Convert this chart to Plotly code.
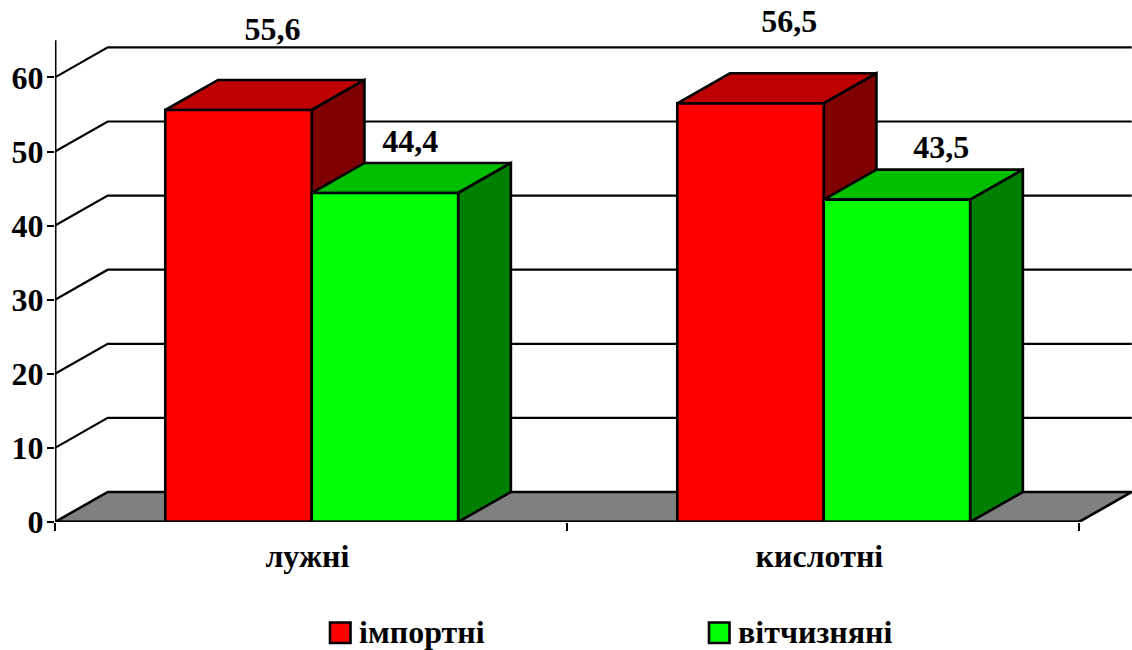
import plotly.graph_objects as go

# Chart data
categories = ["лужні", "кислотні"]
series_names = ["імпортні", "вітчизняні"]
imported = [55.6, 56.5]
domestic = [44.4, 43.5]
value_ticks = [0, 10, 20, 30, 40, 50, 60]
value_labels = ["55,6", "56,5"], ["44,4", "43,5"]

# Faux-3D geometry in axis units
BAR_WIDTH = 0.2860
GROUP_CENTER = 0.5014
DEPTH_X = 0.1030
DEPTH_Y = 4.05
X_MAX = 2
Y_AXIS_TOP = 65.0
PX_PER_X = 512
PX_PER_Y = 7.41

FRONT = ["#FF0000", "#00FF00"]
TOP = ["#BF0000", "#00BF00"]
SIDE = ["#7F0000", "#007F00"]
FLOOR = "#808080"
INK = "#000000"
FONT = "Liberation Serif"
EDGE = 2.6

# Plot-area box in pixels; the axis ranges run right to the window edges
LEFT, BOTTOM = 55, 522
WIDTH, HEIGHT = 1132, 650


def polygon(xs, ys, fill):
    return go.Scatter(
        x=xs + xs[:1], y=ys + ys[:1], mode="lines", fill="toself", fillcolor=fill,
        line=dict(color=INK, width=EDGE), cliponaxis=False,
        hoverinfo="skip", showlegend=False,
    )


def stroke(xs, ys, width):
    return go.Scatter(
        x=xs, y=ys, mode="lines", line=dict(color=INK, width=width), cliponaxis=False,
        hoverinfo="skip", showlegend=False,
    )


fig = go.Figure()

# Floor of the box
fig.add_trace(polygon([0, DEPTH_X, X_MAX + DEPTH_X, X_MAX], [0, DEPTH_Y, DEPTH_Y, 0], FLOOR))

# Gridlines running up the side wall and across the back wall
for v in value_ticks[1:]:
    fig.add_trace(stroke([0, DEPTH_X, X_MAX + DEPTH_X], [v, v + DEPTH_Y, v + DEPTH_Y], 2.2))

# Bars: top, side, then front face, drawn left to right so later bars occlude earlier sides
for c in range(len(categories)):
    for s, values in enumerate([imported, domestic]):
        x0 = c + GROUP_CENTER + (s - 1) * BAR_WIDTH
        x1 = x0 + BAR_WIDTH
        v = values[c]
        fig.add_trace(polygon([x0, x0 + DEPTH_X, x1 + DEPTH_X, x1], [v, v + DEPTH_Y, v + DEPTH_Y, v], TOP[s]))
        fig.add_trace(polygon([x1, x1 + DEPTH_X, x1 + DEPTH_X, x1], [0, DEPTH_Y, v + DEPTH_Y, v], SIDE[s]))
        fig.add_trace(polygon([x0, x1, x1, x0], [0, 0, v, v], FRONT[s]))

# Axis lines
fig.add_trace(stroke([0, X_MAX], [0, 0], 3.2))
fig.add_trace(stroke([0, 0], [0, Y_AXIS_TOP], 3))

# Value labels above the bars
label_x = [[0.425, 1.434], [0.694, 1.731]]
label_y = [[66.16, 67.26], [51.06, 50.16]]
for s in range(2):
    fig.add_trace(go.Scatter(
        x=label_x[s], y=label_y[s], text=value_labels[s], mode="text", textposition="middle center",
        texttemplate="<b>%{text}</b>",
        textfont=dict(family=FONT, size=32, color=INK), cliponaxis=False,
        hoverinfo="skip", showlegend=False,
    ))


def paper_x(px):
    return (px - LEFT) / (WIDTH - LEFT)


def paper_y(py):
    return (BOTTOM - py) / BOTTOM


# Legend keys and names
legend_keys = [(330, FRONT[0]), (709, FRONT[1])]
legend_text_x = [358, 737]
shapes = [
    dict(type="rect", xref="paper", yref="paper", x0=paper_x(k), x1=paper_x(k + 20.5),
         y0=paper_y(643), y1=paper_y(622.5), fillcolor=col, line=dict(color=INK, width=2.6))
    for k, col in legend_keys
]
annotations = [
    dict(text=f"<b>{name}</b>", xref="paper", yref="paper", x=paper_x(px), y=paper_y(632),
         xanchor="left", yanchor="middle", showarrow=False, borderpad=0,
         font=dict(family=FONT, size=32, color=INK))
    for name, px in zip(series_names, legend_text_x)
]

fig.update_layout(
    width=WIDTH, height=HEIGHT, autosize=False,
    margin=dict(l=LEFT, r=0, t=0, b=HEIGHT - BOTTOM, pad=0),
    paper_bgcolor="white", plot_bgcolor="rgba(0,0,0,0)",
    showlegend=False, shapes=shapes, annotations=annotations,
    xaxis=dict(
        range=[0, (WIDTH - LEFT) / PX_PER_X], tickmode="array", tickvals=[0.493, 1.493],
        ticktext=[f"<b>{c}</b>" for c in categories], ticks="", ticklabelstandoff=12,
        tickfont=dict(family=FONT, size=32, color=INK),
        showgrid=False, zeroline=False, showline=False,
        minor=dict(tickmode="array", tickvals=[0, 1, 2], ticks="outside", ticklen=8,
                   tickwidth=2.2, tickcolor=INK, showgrid=False),
    ),
    yaxis=dict(
        range=[0, BOTTOM / PX_PER_Y], tickmode="array", tickvals=value_ticks,
        ticktext=[f"<b>{v}</b>" for v in value_ticks], ticks="outside", ticklen=7,
        ticklabelstandoff=-3,
        tickwidth=2.2, tickcolor=INK, tickfont=dict(family=FONT, size=32, color=INK),
        showgrid=False, zeroline=False, showline=False,
    ),
)

fig.write_html("out.html", config=dict(displayModeBar=False))
